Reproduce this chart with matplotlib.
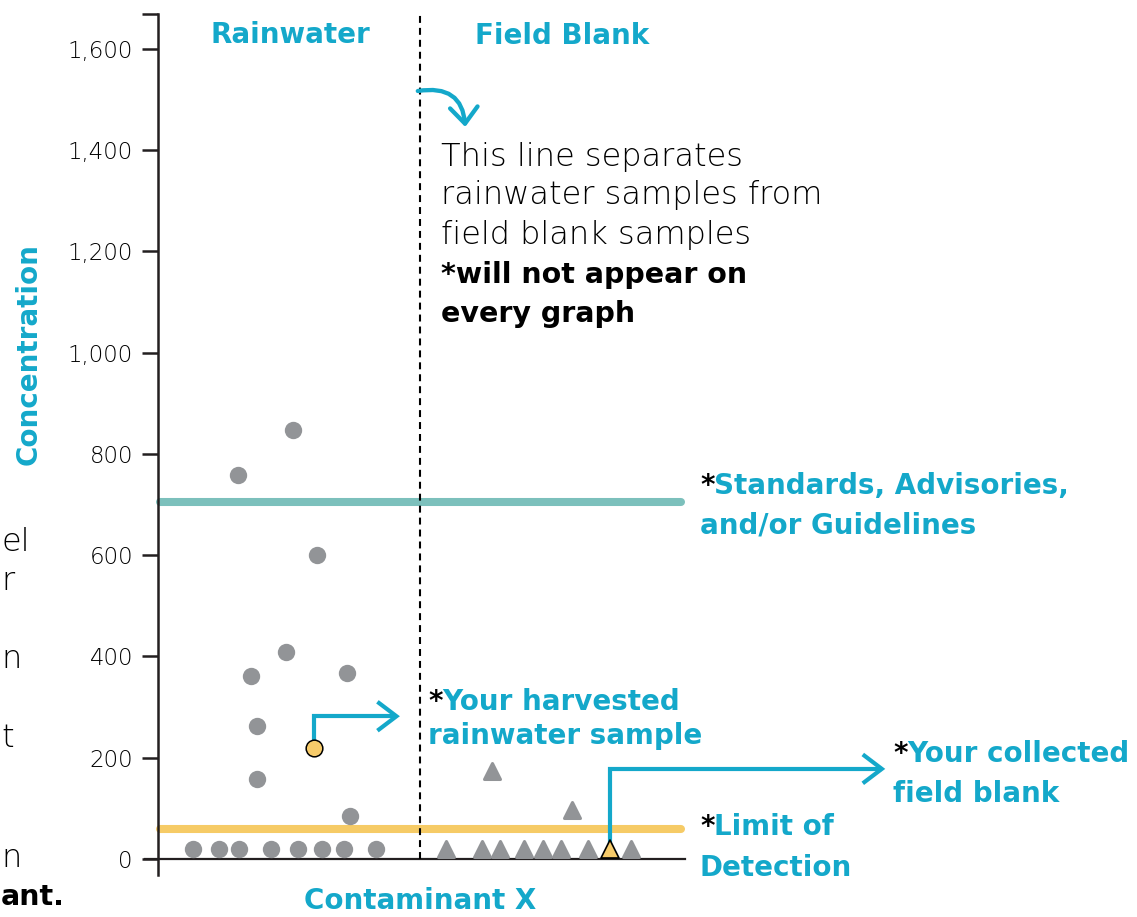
import matplotlib
matplotlib.use("Agg")
import matplotlib.pyplot as plt
from matplotlib.patches import FancyArrowPatch
from matplotlib.path import Path
from matplotlib.markers import MarkerStyle

# ---------------- data ----------------
rain_x = [1.52, 2.56, 3.02, 1.76, 2.42, 3.59, 1.87, 1.87, 3.64,
          0.66, 1.16, 1.53, 2.14, 2.66, 3.11, 3.53, 4.14]
rain_y = [758, 847, 600, 362, 409, 367, 263, 158, 84,
          20, 20, 20, 20, 20, 20, 20, 20]
your_rain_x, your_rain_y = 2.96, 219

blank_x = [6.34, 7.85, 5.46, 6.14, 6.49, 6.94, 7.30, 7.65, 8.15, 8.97]
blank_y = [174, 97, 19, 19, 19, 19, 19, 19, 19, 19]
your_blank_x, your_blank_y = 8.58, 19

standard_level = 705
detection_limit = 59
separator_x = 4.97

yticks = [0, 200, 400, 600, 800, 1000, 1200, 1400, 1600]
ymin, ymax = -32, 1670
xmin, xmax = 0, 10

# ---------------- style ----------------
TEAL = "#14A8CA"
TEAL_LINE = "#7CC0BC"
YELLOW_LINE = "#F6CB66"
GRAY = "#929497"
YELLOW = "#F7CB6A"
INK = "#231F20"
FONT = "DejaVu Sans"

plt.rcParams["font.family"] = [FONT]
plt.rcParams["lines.scale_dashes"] = False

W, H = 1137, 917
fig = plt.figure(figsize=(W / 100, H / 100), dpi=100)
ax = fig.add_axes([158 / W, 1 - 875.2 / H, 527 / W, (875.2 - 13.56) / H])
ax.set_xlim(xmin, xmax)
ax.set_ylim(ymin, ymax)

for s in ["top", "right", "bottom"]:
    ax.spines[s].set_visible(False)
ax.spines["left"].set_linewidth(1.8)
ax.spines["left"].set_color(INK)
ax.set_xticks([])
ax.set_yticks(yticks)
ax.set_yticklabels([f"{v:,}" for v in yticks])
ax.set_yticks([ymax], minor=True)
ax.tick_params(axis="y", which="both", length=11.5, width=1.8, color=INK,
               pad=6.5, labelsize=16.5, labelcolor="black")
for lab in ax.get_yticklabels():
    lab.set_fontweight("light")

# x axis line (extends a bit left of the y axis)
ax.plot([-0.25, xmax], [0, 0], color=INK, lw=1.6, clip_on=False, zorder=2)

# reference lines
ax.plot([0.03, 9.92], [standard_level] * 2, color=TEAL_LINE, lw=5.8,
        solid_capstyle="round", clip_on=False, zorder=2)
ax.plot([0.03, 9.92], [detection_limit] * 2, color=YELLOW_LINE, lw=5.8,
        solid_capstyle="round", clip_on=False, zorder=2)

# separator
ax.plot([separator_x] * 2, [0, ymax], color="black", lw=1.5,
        dashes=(5, 3.6), zorder=3, clip_on=False)

# markers
ax.plot(rain_x, rain_y, "o", ms=12.5, color=GRAY, mec=GRAY, mew=0, zorder=5)
ax.plot([your_rain_x], [your_rain_y], "o", ms=12, mfc=YELLOW, mec="black",
        mew=1.1, zorder=6)
tri = MarkerStyle("^", joinstyle="round")
ax.plot(blank_x, blank_y, linestyle="none", marker=tri, ms=11.5, color=GRAY,
        mec=GRAY, mew=2.2, zorder=5, clip_on=False)
ax.plot([your_blank_x], [your_blank_y], linestyle="none",
        marker=MarkerStyle("^", joinstyle="round"), ms=12.5, mfc=YELLOW,
        mec="black", mew=1.2, zorder=6, clip_on=False)

# arrows
def bent_arrow(x0, y0, ybend, xend, hl=13.7, hw=10.4):
    p = Path([(x0, y0), (x0, ybend), (xend, ybend)])
    a = FancyArrowPatch(path=p, arrowstyle=f"->,head_length={hl},head_width={hw}",
                        color=TEAL, lw=3.0, shrinkA=0, shrinkB=0,
                        joinstyle="miter", capstyle="butt",
                        clip_on=False, zorder=4)
    ax.add_patch(a)

bent_arrow(your_rain_x, your_rain_y, your_rain_y + 63, 4.59)
bent_arrow(your_blank_x, your_blank_y, your_blank_y + 159, 13.8)

curve = Path([(4.93, 1517), (5.77, 1531), (5.83, 1446)],
             [Path.MOVETO, Path.CURVE3, Path.CURVE3])
ax.add_patch(FancyArrowPatch(path=curve,
                             arrowstyle="->,head_length=11.7,head_width=9.9",
                             color=TEAL, lw=3.1, shrinkA=0, shrinkB=0,
                             clip_on=False, zorder=4))

# ---------------- text ----------------
def ftext(x, y, s, **kw):
    kw.setdefault("va", "baseline")
    return fig.text(x / W, 1 - y / H, s, **kw)

TB = dict(color=TEAL, fontsize=20, fontweight="bold")
ftext(290, 43, "Rainwater", ha="center", **TB)
ftext(562.5, 44, "Field Blank", ha="center", **TB)

LT = dict(color="black", fontsize=23, fontweight="light")
BK = dict(color="black", fontsize=20.5, fontweight="bold")
ftext(441, 166, "This line separates", **LT)
ftext(441, 204.5, "rainwater samples from", **LT)
ftext(441, 244, "field blank samples", **LT)
ftext(441, 283, "*will not appear on", **BK)
ftext(441, 322, "every graph", **BK)

STAR = dict(color="black", fontsize=20, fontweight="bold")
ftext(700, 494, "*", **STAR)
ftext(714, 494, "Standards, Advisories,", **TB)
ftext(700, 533, "and/or Guidelines", **TB)

ftext(428, 710, "*", **STAR)
ftext(442, 710, "Your harvested", **TB)
ftext(428, 744, "rainwater sample", **TB)

ftext(893, 762, "*", **STAR)
ftext(907, 762, "Your collected", **TB)
ftext(893, 802, "field blank", **TB)

ftext(700, 835, "*", **STAR)
ftext(714, 835, "Limit of", **TB)
ftext(700, 875.5, "Detection", **TB)

ftext(420, 909, "Contaminant X", ha="center", **TB)
ftext(29, 354, "Concentration", ha="center", va="center", rotation=90, **TB)

# fragments of a side text that is cut off at the page's left edge
ftext(1, 551, "el", ha="left", **LT)
ftext(1, 590, "r", ha="left", **LT)
ftext(1, 668, "n", ha="left", **LT)
ftext(1, 747, "t", ha="left", **LT)
ftext(1, 867, "n", ha="left", **LT)
ftext(1, 905, "ant.", ha="left", **BK)

fig.savefig("out.png", dpi=100)
